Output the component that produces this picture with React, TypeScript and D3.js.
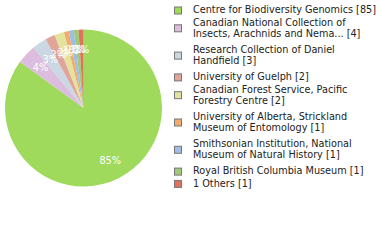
import React from "react";
import * as d3 from "d3";

const labels = [
  "Centre for Biodiversity Genomics [85]",
  "Canadian National Collection of|Insects, Arachnids and Nema... [4]",
  "Research Collection of Daniel|Handfield [3]",
  "University of Guelph [2]",
  "Canadian Forest Service, Pacific|Forestry Centre [2]",
  "University of Alberta, Strickland|Museum of Entomology [1]",
  "Smithsonian Institution, National|Museum of Natural History [1]",
  "Royal British Columbia Museum [1]",
  "1 Others [1]",
];
const values = [85, 4, 3, 2, 2, 1, 1, 1, 1];
const colors = [
  "#a0da5c",
  "#dcbde0",
  "#cbd7e3",
  "#e0a498",
  "#e3e39d",
  "#f2ab6b",
  "#9fbde6",
  "#9fca78",
  "#e0715a",
];

export default function App() {
  const cx = 83.5;
  const cy = 108;
  const r = 78.5;
  const total = d3.sum(values);
  const pie = d3.pie<number>().sort(null).value((d) => d);
  const arcs = pie(values);
  const arc = d3.arc<d3.PieArcDatum<number>>().innerRadius(0).outerRadius(r);
  const labelArc = d3.arc<d3.PieArcDatum<number>>().innerRadius(59).outerRadius(59);

  // legend layout
  let y = 10;
  const legendItems = labels.map((l, i) => {
    const lines = l.split("|");
    const item = { lines, y, i };
    y += lines.length === 1 ? 12.3 : 27.3;
    return item;
  });

  return (
    <svg width={380} height={240} style={{ position: "absolute", left: 0, top: 0 }}>
      <g transform={`translate(${cx},${cy})`}>
        {arcs.map((a, i) => (
          <path key={i} d={arc(a) as string} fill={colors[i]} />
        ))}
        {arcs.map((a, i) => {
          const [x, yy] = labelArc.centroid(a);
          return (
            <text
              key={"l" + i}
              x={x}
              y={yy}
              dy="0.38em"
              textAnchor="middle"
              fill="#fff"
              fontFamily="DejaVu Sans"
              fontSize={9.8}
            >
              {Math.round((values[i] / total) * 100)}%
            </text>
          );
        })}
      </g>
      <g fontFamily="DejaVu Sans" fontSize={9.7} fill="#222">
        {legendItems.map((it) => {
          const sqY = it.lines.length === 1 ? it.y + 0.5 : it.y + 6;
          return (
            <g key={it.i}>
              <rect
                x={174.5}
                y={sqY - 3.5}
                width={7}
                height={7}
                fill={colors[it.i]}
                stroke="#777"
                strokeWidth={1}
              />
              {it.lines.map((ln, k) => (
                <text key={k} x={193} y={it.y + k * 11} dy="0.35em">
                  {ln}
                </text>
              ))}
            </g>
          );
        })}
      </g>
    </svg>
  );
}
